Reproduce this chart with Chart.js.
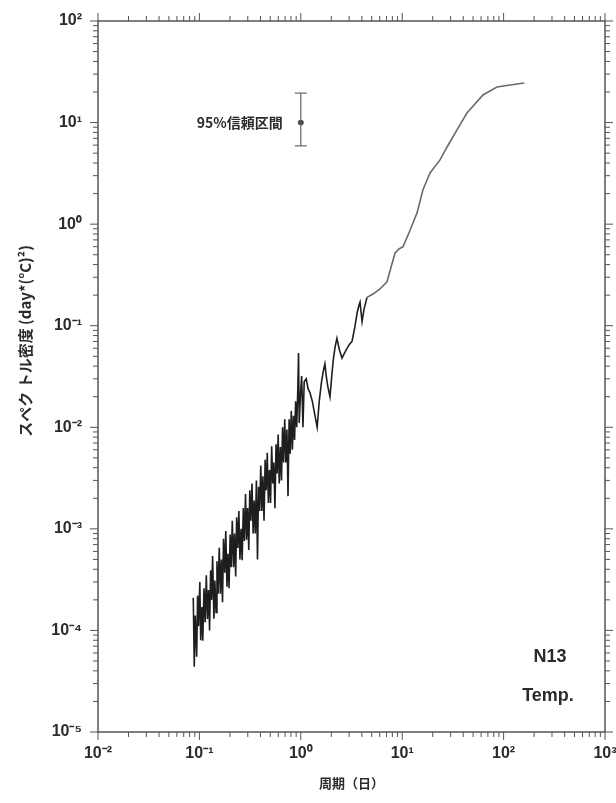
<!DOCTYPE html>
<html>
<head>
<meta charset="utf-8">
<script src="https://cdn.jsdelivr.net/npm/chart.js@4.4.1/dist/chart.umd.min.js"></script>
<style>
  html, body { margin: 0; padding: 0; background: #fff; }
  #wrap { width: 616px; height: 803px; }
</style>
</head>
<body>
<div id="wrap"><canvas id="spectrumChart" width="616" height="803"></canvas></div>
<script>
// Temperature spectrum, station N13
const periods = [
    0.087, 0.089, 0.091, 0.094, 0.096, 0.098, 0.101, 0.103, 0.106, 0.108,
    0.111, 0.114, 0.117, 0.120, 0.123, 0.126, 0.129, 0.132, 0.135, 0.139,
    0.142, 0.146, 0.149, 0.153, 0.157, 0.161, 0.165, 0.169, 0.173, 0.178,
    0.182, 0.187, 0.191, 0.196, 0.201, 0.206, 0.211, 0.217, 0.222, 0.228,
    0.233, 0.239, 0.245, 0.251, 0.258, 0.264, 0.271, 0.278, 0.285, 0.292,
    0.299, 0.307, 0.314, 0.322, 0.330, 0.339, 0.347, 0.356, 0.365, 0.374,
    0.383, 0.393, 0.403, 0.413, 0.423, 0.434, 0.445, 0.456, 0.467, 0.479,
    0.491, 0.503, 0.516, 0.529, 0.542, 0.556, 0.570, 0.584, 0.598, 0.613,
    0.629, 0.645, 0.661, 0.677, 0.694, 0.712, 0.730, 0.748, 0.767, 0.786,
    0.805, 0.826, 0.846, 0.868, 0.889, 0.912, 0.934, 0.950, 0.965, 0.99,
    1.02, 1.05, 1.08, 1.13, 1.18, 1.23, 1.30, 1.38, 1.45, 1.52,
    1.60, 1.67, 1.73, 1.78, 1.85, 1.94, 2.02, 2.10, 2.18, 2.27,
    2.40, 2.55, 2.75, 3.0, 3.2, 3.4, 3.6, 3.75, 3.84, 3.93,
    4.02, 4.2, 4.5, 5.15, 6.04, 7.08, 7.6, 8.5, 9.3, 10.2,
    11.9, 14.0, 16.0, 18.8, 23.6, 27.7, 34.7, 43.5, 62.6, 86,
    116, 160
];

const spectrum = [
    2.1e-4, 4.4e-5, 1.4e-4, 5.5e-5, 2.2e-4, 1.1e-4, 3.0e-4, 8.0e-5, 1.7e-4, 7.9e-5,
    2.6e-4, 1.2e-4, 3.5e-4, 1.3e-4, 2.5e-4, 1.0e-4, 3.9e-4, 2.0e-4, 5.4e-4, 1.3e-4,
    3.1e-4, 1.5e-4, 4.8e-4, 2.3e-4, 6.5e-4, 2.3e-4, 5.0e-4, 1.9e-4, 8.0e-4, 3.7e-4,
    9.5e-4, 2.7e-4, 5.7e-4, 2.6e-4, 8.8e-4, 4.2e-4, 1.2e-3, 4.2e-4, 9.0e-4, 3.4e-4,
    1.3e-3, 6.5e-4, 1.5e-3, 5.0e-4, 1.0e-3, 4.9e-4, 1.6e-3, 7.6e-4, 2.2e-3, 7.8e-4,
    1.6e-3, 6.2e-4, 2.4e-3, 1.2e-3, 2.8e-3, 9.0e-4, 1.9e-3, 9.0e-4, 3.0e-3, 5.0e-4,
    2.6e-3, 1.5e-3, 4.2e-3, 1.5e-3, 3.3e-3, 1.2e-3, 4.8e-3, 2.4e-3, 5.6e-3, 1.8e-3,
    3.8e-3, 1.8e-3, 6.5e-3, 2.8e-3, 4.5e-3, 1.6e-3, 6.8e-3, 3.5e-3, 8.5e-3, 2.8e-3,
    6.4e-3, 3.0e-3, 1.0e-2, 4.5e-3, 1.2e-2, 4.5e-3, 9.5e-3, 2.1e-3, 1.2e-2, 5.5e-3,
    1.45e-2, 6.0e-3, 1.3e-2, 7.5e-3, 1.8e-2, 1.0e-2, 2.4e-2, 5.4e-2, 1.1e-2, 2.0e-2,
    3.2e-2, 1.0e-2, 2.8e-2, 3.0e-2, 2.4e-2, 2.2e-2, 1.8e-2, 1.3e-2, 1.0e-2, 1.8e-2,
    2.8e-2, 3.6e-2, 4.2e-2, 3.2e-2, 2.5e-2, 2.0e-2, 3.2e-2, 4.8e-2, 6.2e-2, 7.5e-2,
    5.8e-2, 4.8e-2, 5.6e-2, 6.5e-2, 7.0e-2, 9.5e-2, 0.135, 0.16, 0.171, 0.135,
    0.11, 0.145, 0.19, 0.205, 0.23, 0.27, 0.35, 0.52, 0.57, 0.60,
    0.86, 1.29, 2.17, 3.19, 4.29, 5.75, 8.46, 12.4, 18.7, 22.4,
    23.4, 24.5
];

// 95% confidence interval marker
const ciPeriod = 1.0;
const ciMid = 10;
const ciLow = 5.9;
const ciHigh = 19.5;
const ciLabel = '95%信頼区間';

// axis decades and their labels
const xDecades = [1e-2, 1e-1, 1e0, 1e1, 1e2, 1e3];
const xTickLabels = ['10⁻²', '10⁻¹', '10⁰', '10¹', '10²', '10³'];
const yDecades = [1e-5, 1e-4, 1e-3, 1e-2, 1e-1, 1e0, 1e1, 1e2];
const yTickLabels = ['10⁻⁵', '10⁻⁴', '10⁻³', '10⁻²', '10⁻¹', '10⁰', '10¹', '10²'];

const xTitle = '周期（日）';
const yTitle = 'スペク トル密度 (day*(°C)²)';
const stationLabel = 'N13';
const variableLabel = 'Temp.';

const INK = '#2b2b2b';
const latin = '"Liberation Sans", Arial, sans-serif';
const cjk = '"Noto Sans CJK JP", "Liberation Sans", sans-serif';

// frame, outward tick marks on all four sides, and free text
const framePlugin = {
    id: 'frame',
    afterDraw(chart) {
        const { ctx, chartArea: a, scales } = chart;
        const xs = scales.x, ys = scales.y;
        ctx.save();
        ctx.strokeStyle = '#555';
        ctx.lineWidth = 1.5;
        ctx.strokeRect(a.left, a.top, a.right - a.left, a.bottom - a.top);

        ctx.lineWidth = 1;
        ctx.beginPath();
        xDecades.forEach((d, i) => {
            for (let m = 1; m <= 9; m++) {
                if (m > 1 && i === xDecades.length - 1) break;
                const px = xs.getPixelForValue(d * m);
                const len = m === 1 ? 8 : 5;
                ctx.moveTo(px, a.bottom); ctx.lineTo(px, a.bottom + len);
                ctx.moveTo(px, a.top); ctx.lineTo(px, a.top - len);
            }
        });
        yDecades.forEach((d, i) => {
            for (let m = 1; m <= 9; m++) {
                if (m > 1 && i === yDecades.length - 1) break;
                const py = ys.getPixelForValue(d * m);
                const len = m === 1 ? 8 : 5;
                ctx.moveTo(a.left, py); ctx.lineTo(a.left - len, py);
                ctx.moveTo(a.right, py); ctx.lineTo(a.right + len, py);
            }
        });
        ctx.stroke();

        // y axis title, rotated
        ctx.fillStyle = INK;
        ctx.font = 'bold 15px ' + cjk;
        ctx.textAlign = 'center';
        ctx.textBaseline = 'middle';
        ctx.save();
        ctx.translate(25, a.top + (a.bottom - a.top) * 0.45);
        ctx.rotate(-Math.PI / 2);
        ctx.fillText(yTitle, 0, 0);
        ctx.restore();

        // confidence interval label
        ctx.font = 'bold 14px ' + cjk;
        ctx.textAlign = 'right';
        ctx.fillText(ciLabel, xs.getPixelForValue(ciPeriod) - 18, ys.getPixelForValue(ciMid));

        // station / variable
        ctx.font = 'bold 18px ' + latin;
        ctx.textAlign = 'center';
        ctx.fillText(stationLabel, a.right - 55, a.bottom - 75);
        ctx.fillText(variableLabel, a.right - 57, a.bottom - 36);
        ctx.restore();
    }
};

function decadeTicks(decades) {
    return scale => { scale.ticks = decades.map(v => ({ value: v })); };
}

const ctx = document.getElementById('spectrumChart').getContext('2d');
new Chart(ctx, {
    type: 'scatter',
    data: {
        datasets: [
            {
                label: 'spectrum',
                data: periods.map((p, i) => ({ x: p, y: spectrum[i] })),
                showLine: true,
                borderColor: '#1e1e1e',
                borderWidth: 1.6,
                pointRadius: 0,
                tension: 0,
                // the long-period part prints lighter in the scan
                segment: {
                    borderColor: c => c.p0.parsed.x >= 4.5 ? '#6a6a6a' : undefined
                }
            },
            {
                label: 'ci',
                data: [{ x: ciPeriod, y: ciLow }, { x: ciPeriod, y: ciHigh }],
                showLine: true,
                borderColor: '#666',
                borderWidth: 1.2,
                pointStyle: 'line',
                pointRadius: 6,
                pointBorderColor: '#666',
                pointBorderWidth: 1.2
            },
            {
                label: 'ci-mid',
                data: [{ x: ciPeriod, y: ciMid }],
                pointStyle: 'circle',
                pointRadius: 2.5,
                pointBackgroundColor: '#444',
                pointBorderColor: '#444'
            }
        ]
    },
    options: {
        responsive: false,
        animation: false,
        layout: { padding: { top: 21, right: 11, left: 0, bottom: 0 } },
        plugins: {
            legend: { display: false },
            tooltip: { enabled: false }
        },
        scales: {
            x: {
                type: 'logarithmic',
                min: 1e-2,
                max: 1e3,
                afterBuildTicks: decadeTicks(xDecades),
                afterFit: s => { s.height = 71; s.paddingLeft = 0; s.paddingRight = 0; },
                grid: { display: false, drawTicks: false },
                border: { display: false },
                ticks: {
                    autoSkip: false,
                    maxRotation: 0,
                    padding: 12,
                    color: INK,
                    font: { family: latin, size: 16, weight: 'bold' },
                    callback: (v, i) => xTickLabels[i]
                },
                title: {
                    display: true,
                    text: xTitle,
                    color: INK,
                    font: { family: cjk, size: 13, weight: 'bold' },
                    padding: { top: 0, bottom: 12 }
                }
            },
            y: {
                type: 'logarithmic',
                min: 1e-5,
                max: 1e2,
                afterBuildTicks: decadeTicks(yDecades),
                afterFit: s => { s.width = 98; s.paddingTop = 0; s.paddingBottom = 0; },
                grid: { display: false, drawTicks: false },
                border: { display: false },
                ticks: {
                    autoSkip: false,
                    padding: 16,
                    color: INK,
                    font: { family: latin, size: 16, weight: 'bold' },
                    callback: (v, i) => yTickLabels[i]
                }
            }
        }
    },
    plugins: [framePlugin]
});
</script>
</body>
</html>
